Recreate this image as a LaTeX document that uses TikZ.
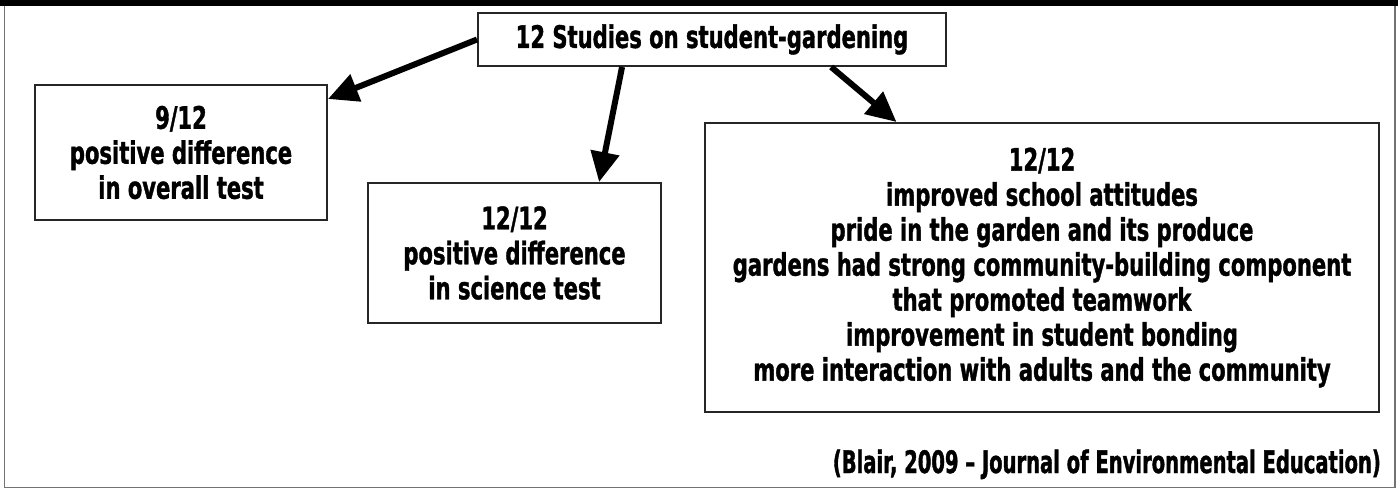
\documentclass[tikz,border=0pt]{standalone}
\usepackage{fontspec}
\setmainfont{DejaVu Sans}[FakeStretch=0.68, BoldFeatures={FakeBold=1.2}]
\usetikzlibrary{arrows.meta}

\begin{document}
\begin{tikzpicture}[
            x = 1pt, y = -1pt,
            every node/.style={font=\bfseries\fontsize{31}{35}\selectfont, align=center, inner sep=0pt},
            box/.style={draw=black!85, line width = 2pt},
            arrow/.style={line width = 6pt, -{Triangle[length=30pt, width=28pt]}},
            ]
        \useasboundingbox (0,0) rectangle (1398,489);
        \draw[black!55, line width = 1.5pt] (4.5,3) rectangle (1395,487.5);
        \fill (0,0) rectangle (1398,6);

        \node[box, minimum width=468pt, minimum height=53pt] (top) at (712,39.5) {12 Studies on student-gardening};
        \node[box, minimum width=292pt, minimum height=135pt] (overall) at (181,152.5) {9/12\\positive difference\\in overall test};
        \node[box, minimum width=293pt, minimum height=140pt] (science) at (514.5,253) {12/12\\positive difference\\in science test};
        \node[box, minimum width=674pt, minimum height=289pt] (attitude) at (1042,267.5) {12/12\\improved school attitudes\\pride in the garden and its produce\\gardens had strong community-building component\\that promoted teamwork\\improvement in student bonding\\more interaction with adults and the community};
        \node[anchor=base east, font=\bfseries\fontsize{31}{35}\selectfont\addfontfeatures{FakeStretch=0.63}] (cite) at (1381,473) {(Blair, 2009 -- Journal of Environmental Education)};

        \draw[arrow] (top.west) -- (overall.20);
        \draw[arrow] (top.197) -- (science.40);
        \draw[arrow] (top.-13) -- (attitude.135);
    \end{tikzpicture}
\end{document}
